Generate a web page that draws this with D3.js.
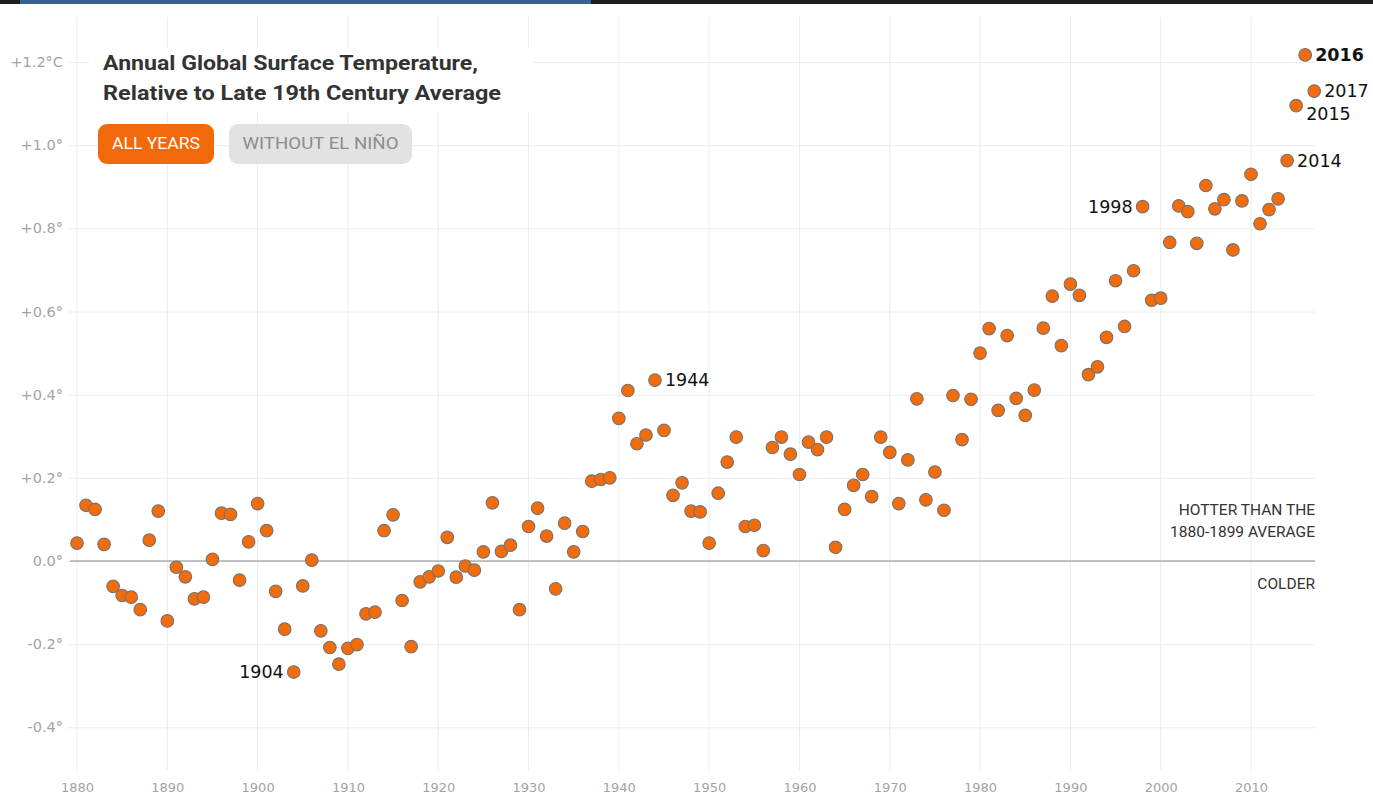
<!DOCTYPE html>
<html>
<head>
<meta charset="utf-8">
<script src="https://cdn.jsdelivr.net/npm/d3@7"></script>
<style>
  html, body { margin: 0; padding: 0; background: #fff; }
  svg { display: block; }
  .narrow { font-family: "Liberation Sans Narrow", "Roboto", "Liberation Sans", sans-serif; }
  .axislab { font-family: "DejaVu Sans", "Liberation Sans", sans-serif; }
</style>
</head>
<body>
<svg id="chart" width="1373" height="799"></svg>
<script>
// ---- data ----
const years = d3.range(1880, 2018);
const anomalies = [
  0.043, 0.134, 0.124, 0.040, -0.061, -0.083, -0.087, -0.117, 0.050, 0.120,
  -0.144, -0.015, -0.038, -0.091, -0.087, 0.004, 0.115, 0.112, -0.046, 0.046,
  0.138, 0.073, -0.073, -0.164, -0.267, -0.060, 0.002, -0.168, -0.208, -0.248,
  -0.210, -0.201, -0.127, -0.123, 0.073, 0.111, -0.095, -0.206, -0.050, -0.038,
  -0.024, 0.057, -0.039, -0.012, -0.022, 0.022, 0.140, 0.023, 0.038, -0.117,
  0.083, 0.127, 0.060, -0.067, 0.091, 0.022, 0.071, 0.192, 0.196, 0.200,
  0.343, 0.410, 0.282, 0.303, 0.435, 0.314, 0.158, 0.188, 0.120, 0.118,
  0.043, 0.163, 0.238, 0.298, 0.083, 0.086, 0.025, 0.273, 0.298, 0.257,
  0.208, 0.286, 0.268, 0.298, 0.033, 0.124, 0.182, 0.208, 0.155, 0.298,
  0.261, 0.138, 0.243, 0.390, 0.147, 0.214, 0.122, 0.398, 0.292, 0.389,
  0.500, 0.559, 0.362, 0.542, 0.391, 0.350, 0.411, 0.560, 0.637, 0.518,
  0.666, 0.639, 0.448, 0.467, 0.538, 0.674, 0.564, 0.698, 0.852, 0.627,
  0.632, 0.766, 0.854, 0.840, 0.764, 0.903, 0.847, 0.869, 0.748, 0.866,
  0.930, 0.811, 0.845, 0.871, 0.963, 1.095, 1.217, 1.130
];
const xTickValues = [1880, 1890, 1900, 1910, 1920, 1930, 1940, 1950, 1960, 1970, 1980, 1990, 2000, 2010];
const yTickValues = [-0.4, -0.2, 0.0, 0.2, 0.4, 0.6, 0.8, 1.0, 1.2];
const yTickLabels = ["-0.4°", "-0.2°", "0.0°", "+0.2°", "+0.4°", "+0.6°", "+0.8°", "+1.0°", "+1.2°C"];
const labelledYears = [1904, 1944, 1998, 2014, 2015, 2016, 2017];
const titleLines = ["Annual Global Surface Temperature,", "Relative to Late 19th Century Average"];
const buttonLabels = ["ALL YEARS", "WITHOUT EL NIÑO"];
const zoneLabels = ["HOTTER THAN THE", "1880-1899 AVERAGE", "COLDER"];

const data = years.map((y, i) => ({ year: y, value: anomalies[i] }));

// ---- scales ----
const x = d3.scaleLinear().domain([1880, 2010]).range([77, 1251]);
const y = d3.scaleLinear().domain([0, 1.2]).range([561, 62]);

const svg = d3.select("#chart");

// top bar
svg.append("rect").attr("x", 0).attr("y", 0).attr("width", 1373).attr("height", 4).attr("fill", "#1e1e1e");
svg.append("rect").attr("x", 20).attr("y", 0).attr("width", 571).attr("height", 4).attr("fill", "#366192");

const gridRight = 1315;

// vertical grid
const xAxis = d3.axisBottom(x).tickValues(xTickValues).tickFormat(d3.format("d")).tickSize(0);
const gx = svg.append("g").attr("transform", "translate(0,770)");
gx.selectAll("line.vg").data(xTickValues).join("line")
  .attr("x1", d => x(d)).attr("x2", d => x(d))
  .attr("y1", 17 - 770).attr("y2", 0)
  .attr("stroke", "#ececec").attr("stroke-width", 1);
gx.call(xAxis);
gx.select(".domain").remove();
gx.selectAll(".tick text")
  .attr("class", "axislab")
  .attr("fill", "#a3a3a3")
  .attr("font-size", 13)
  .attr("dy", "0")
  .attr("y", 22);

// horizontal grid + y labels
const yAxis = d3.axisLeft(y).tickValues(yTickValues)
  .tickFormat((d, i) => yTickLabels[i])
  .tickSize(-(gridRight - 68)).tickPadding(5);
const gy = svg.append("g").attr("transform", "translate(68,0)");
gy.call(yAxis);
gy.select(".domain").remove();
gy.selectAll(".tick line").attr("stroke", "#ececec");
gy.selectAll(".tick text")
  .attr("class", "axislab")
  .attr("fill", "#a3a3a3")
  .attr("font-size", 14.5);

// zero line
svg.append("line")
  .attr("x1", 70).attr("x2", gridRight)
  .attr("y1", y(0)).attr("y2", y(0))
  .attr("stroke", "#8a8a8a").attr("stroke-width", 1.2);

// title box
svg.append("rect").attr("x", 89).attr("y", 48).attr("width", 444).attr("height", 64).attr("fill", "#fff");
svg.selectAll("text.title").data(titleLines).join("text")
  .attr("class", "title narrow")
  .attr("x", 103)
  .attr("y", (d, i) => 70 + i * 30)
  .attr("font-size", 21)
  .attr("font-weight", "bold")
  .attr("fill", "#333")
  .attr("textLength", (d, i) => i === 0 ? 375 : 398)
  .attr("lengthAdjust", "spacingAndGlyphs")
  .text(d => d);

// buttons
const btn = [
  { x: 98, w: 116, fill: "#f2690b", color: "#fff", tl: 88 },
  { x: 229, w: 183, fill: "#e2e2e2", color: "#8c8c8c", tl: 156 }
];
const gb = svg.append("g");
gb.selectAll("rect").data(buttonLabels).join("rect")
  .attr("x", (d, i) => btn[i].x).attr("y", 124)
  .attr("width", (d, i) => btn[i].w).attr("height", 40)
  .attr("rx", 9).attr("fill", (d, i) => btn[i].fill);
gb.selectAll("text").data(buttonLabels).join("text")
  .attr("class", "narrow")
  .attr("x", (d, i) => btn[i].x + btn[i].w / 2).attr("y", 145)
  .attr("text-anchor", "middle").attr("dominant-baseline", "middle")
  .attr("font-size", 17)
  .attr("textLength", (d, i) => btn[i].tl)
  .attr("lengthAdjust", "spacingAndGlyphs")
  .attr("fill", (d, i) => btn[i].color)
  .text(d => d);

// zone labels
svg.selectAll("text.zone").data(zoneLabels).join("text")
  .attr("class", "zone narrow")
  .attr("x", gridRight)
  .attr("y", (d, i) => [511, 533, 585][i])
  .attr("text-anchor", "end").attr("dominant-baseline", "middle")
  .attr("font-size", 15.5).attr("fill", "#333")
  .text(d => d);

// dots
svg.append("g").selectAll("circle").data(data).join("circle")
  .attr("cx", d => x(d.year))
  .attr("cy", d => y(d.value))
  .attr("r", 6.3)
  .attr("fill", "#f36c0c")
  .attr("stroke", "#737373")
  .attr("stroke-width", 1.1);

// year labels
const labData = data.filter(d => labelledYears.includes(d.year));
svg.append("g").selectAll("text").data(labData).join("text")
  .attr("font-family", "'DejaVu Sans', sans-serif")
  .attr("font-size", 17.5)
  .attr("fill", "#111")
  .attr("font-weight", d => d.year === 2016 ? "bold" : "normal")
  .attr("text-anchor", d => (d.year === 1904 || d.year === 1998) ? "end" : "start")
  .attr("dominant-baseline", "middle")
  .attr("x", d => (d.year === 1904 || d.year === 1998) ? x(d.year) - 10 : x(d.year) + 10)
  .attr("y", d => d.year === 2015 ? y(d.value) + 9 : y(d.value) + 1)
  .text(d => d.year);
</script>
</body>
</html>
